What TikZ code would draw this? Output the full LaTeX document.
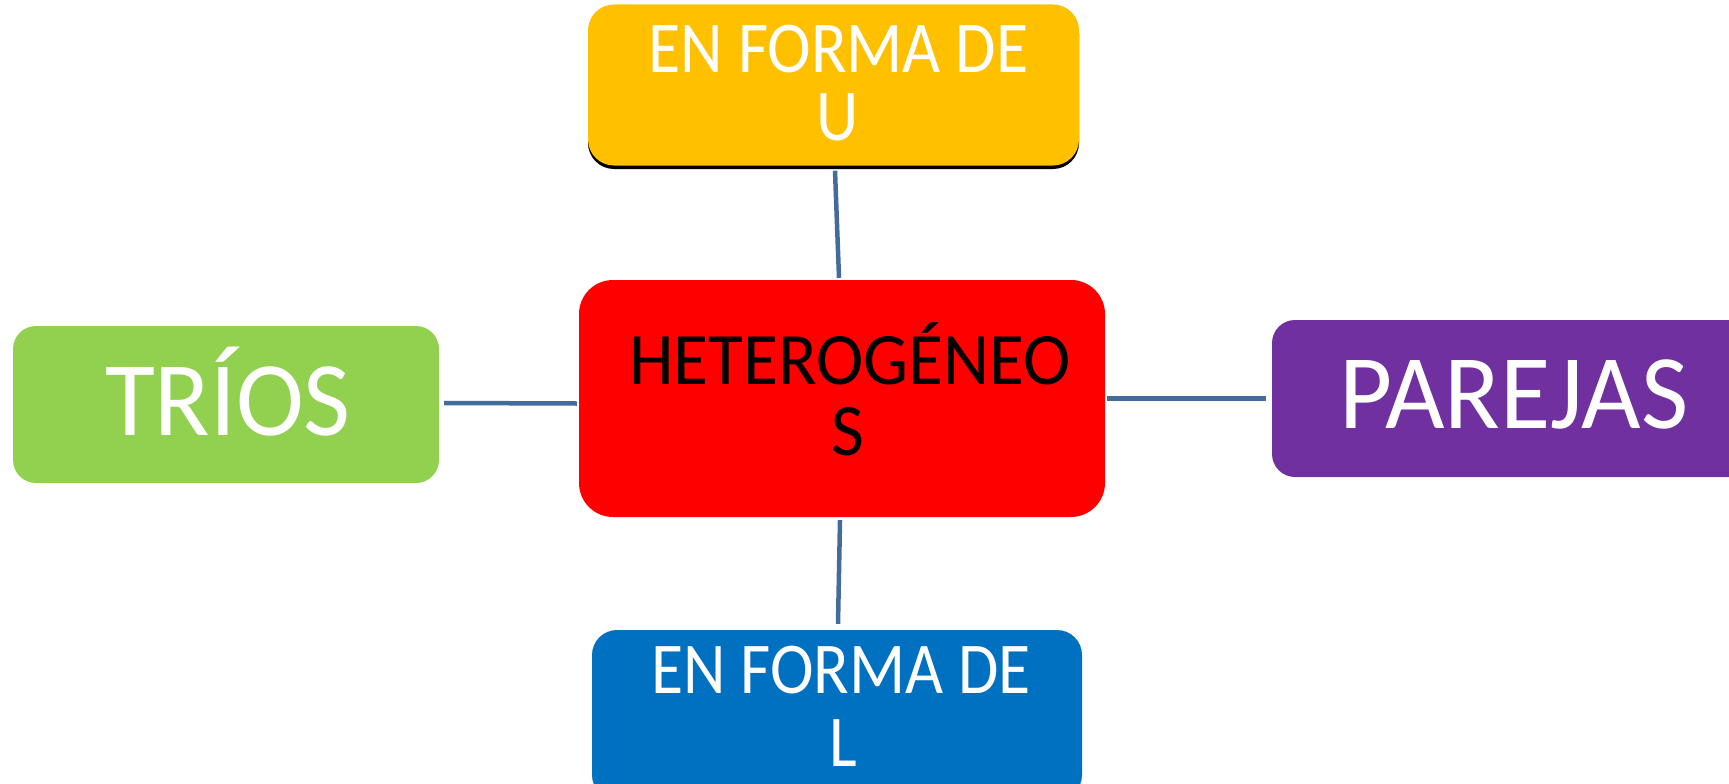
\documentclass[tikz,border=0pt]{standalone}
\usepackage{fontspec}
\usetikzlibrary{shadows}
\newfontfamily\fA[FakeStretch=0.90]{Carlito}
\newfontfamily\fB[FakeStretch=0.965]{Carlito}
\newfontfamily\fC[FakeStretch=0.965]{Carlito}
\newfontfamily\fD[FakeStretch=0.97]{Carlito}
\definecolor{cYel}{HTML}{FFC000}
\definecolor{cRed}{HTML}{FF0000}
\definecolor{cGrn}{HTML}{92D050}
\definecolor{cPur}{HTML}{7030A0}
\definecolor{cBlu}{HTML}{0070C0}
\definecolor{cLine}{RGB}{68,108,155}
\tikzset{
  box/.style={rectangle, draw=none, inner sep=0pt},
  txt/.style={inner sep=0pt, anchor=base},
  link/.style={draw=cLine, line width=4.5pt}
}
\begin{document}
\begin{tikzpicture}[x=1pt,y=-1pt]
\useasboundingbox (0,0) rectangle (1729,784);
\clip (0,0) rectangle (1729,784);
% boxes
\node[box, fill=cYel, rounded corners=26pt, minimum width=491pt, minimum height=161pt,
      general shadow={fill=black, shadow yshift=-3.5pt}] (u) at (833.5,85) {};
\node[box, fill=cRed, rounded corners=34pt, minimum width=526pt, minimum height=237pt] (h) at (842,398.5) {};
\node[box, fill=cGrn, rounded corners=23pt, minimum width=426pt, minimum height=157pt] (g) at (226,404.5) {};
\node[box, fill=cPur, rounded corners=23pt, minimum width=484pt, minimum height=157pt] (p) at (1514,398.5) {};
\node[box, fill=cBlu, rounded corners=25pt, minimum width=490pt, minimum height=170pt] (b) at (837,715) {};
% texts
\node[txt, text=white, font=\fA\fontsize{73}{73}\selectfont] (u1) at (838.5,72) {EN FORMA DE};
\node[txt, text=white, font=\fA\fontsize{73}{73}\selectfont] (u2) at (838,140) {U};
\node[txt, text=black, font=\fB\fontsize{74}{74}\selectfont] (h1) at (850,384) {HETEROGÉNEO};
\node[txt, text=black, font=\fB\fontsize{74}{74}\selectfont] (h2) at (848,455) {S};
\node[txt, text=white, font=\fC\fontsize{106}{106}\selectfont] (g1) at (228,435) {TRÍOS};
\node[txt, text=white, font=\fD\fontsize{106}{106}\selectfont] (p1) at (1514,428) {PAREJAS};
\node[txt, text=white, font=\fA\fontsize{73}{73}\selectfont] (b1) at (841,693) {EN FORMA DE};
\node[txt, text=white, font=\fA\fontsize{73}{73}\selectfont] (b2) at (843,766) {L};
% connectors
\draw[link] ([shift={(1.5,5)}]u.south) -- ([shift={(-3,-2)}]h.north);
\draw[link] ([shift={(5,-1.5)}]g.east) -- ([shift={(-2,5)}]h.west);
\draw[link] ([shift={(2,0)}]h.east) -- ([shift={(-6,0)}]p.west);
\draw[link] ([shift={(-2,3)}]h.south) -- ([shift={(1,-6)}]b.north);
\end{tikzpicture}
\end{document}
